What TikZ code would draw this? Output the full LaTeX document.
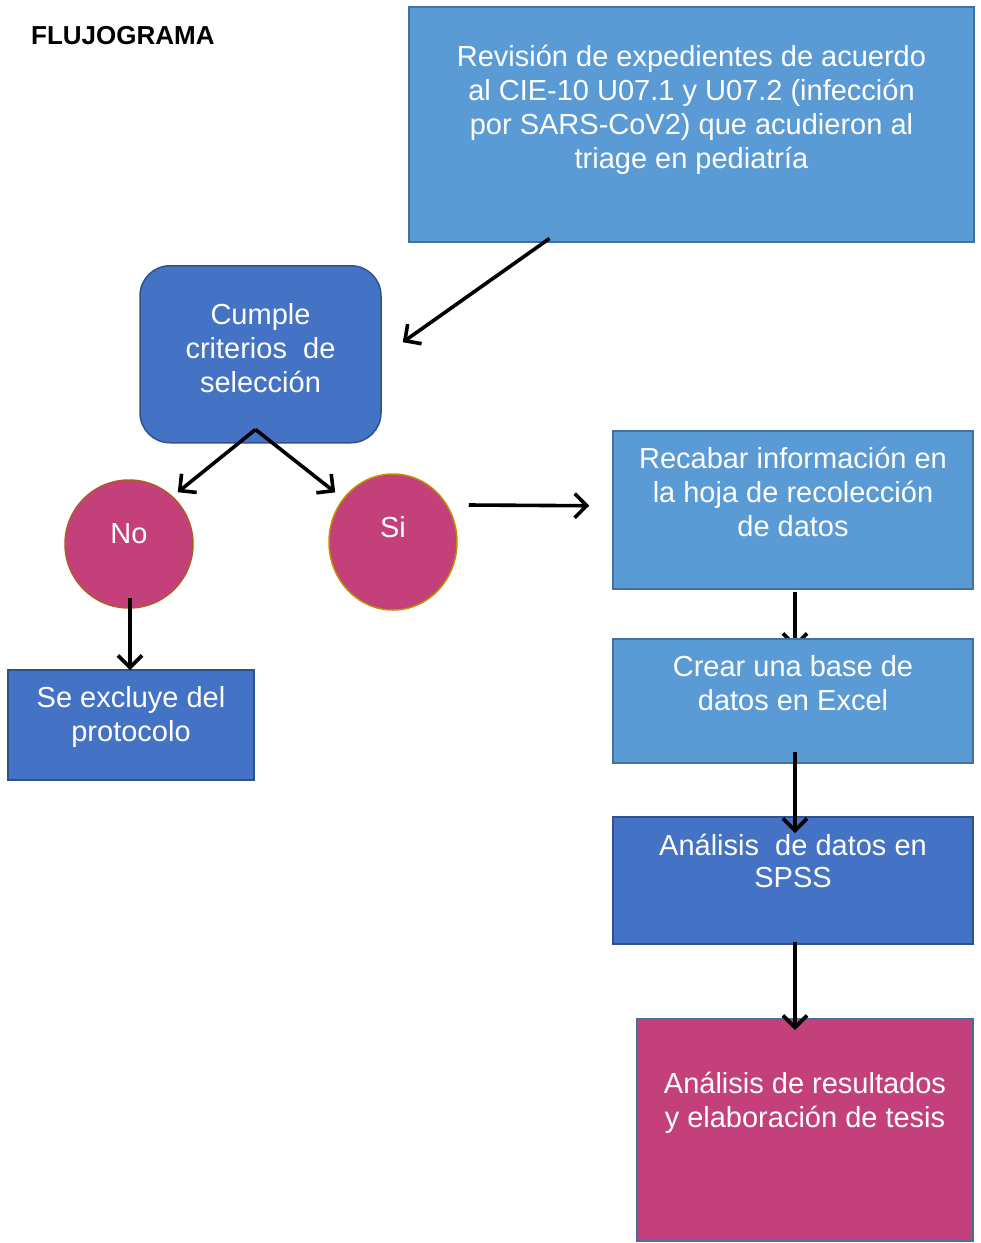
\documentclass[tikz,border=0pt]{standalone}
\usepackage{fontspec}
\setmainfont{Liberation Sans}
\usepackage{xcolor}
\usetikzlibrary{shapes,arrows.meta,positioning,calc}
\definecolor{lblue}{HTML}{5B9BD5}
\definecolor{dblue}{HTML}{4472C4}
\definecolor{pinkm}{HTML}{C4407B}
\definecolor{lbline}{HTML}{41719C}
\definecolor{dbline}{HTML}{2F528F}
\definecolor{brownline}{HTML}{AE5A21}
\definecolor{goldline}{HTML}{BF9000}
\pgfdeclarelayer{background}
\pgfsetlayers{background,main}

\begin{document}
\begin{tikzpicture}[x=1pt,y=-1pt,
    box/.style={rectangle,anchor=north,inner sep=0pt,align=center,text=white,
        line width=1.5pt,font=\fontsize{29}{34}\selectfont},
    circ/.style={ellipse,inner sep=0pt,text=white,fill=pinkm,line width=1.5pt,
        font=\fontsize{29}{34}\selectfont},
    arr/.style={line width=3.6pt,-{Straight Barb[length=12pt,width=24pt]}}]
\useasboundingbox (0,0) rectangle (981,1243);

% title
\node[anchor=west,inner sep=0pt,font=\fontsize{26}{30}\bfseries] (title) at (31,36) {FLUJOGRAMA};

% top box
\node[box,fill=lblue,draw=lbline,minimum width=565pt,text height=162pt,text depth=73pt]
    (rev) at (691.5,6) {Revisión de expedientes de acuerdo\\al CIE-10 U07.1 y U07.2 (infección\\por SARS-CoV2) que acudieron al\\triage en pediatría};

% decision
\node[box,fill=dblue,draw=dbline,rounded corners=30pt,minimum width=241pt,text height=127pt,text depth=50pt]
    (crit) at (260.5,265) {Cumple\\criterios\ \ de\\selección};

\node[circ,draw=brownline,minimum width=128pt,minimum height=128pt,text height=21pt,text depth=23pt]
    (no) at (129,544) {No};
\node[circ,draw=goldline,minimum width=128pt,minimum height=136pt,text height=20pt,text depth=30pt]
    (si) at (393,542) {Si};

\node[box,fill=dblue,draw=dbline,minimum width=246pt,text height=72pt,text depth=38pt]
    (excl) at (131,669) {Se excluye del\\protocolo};

% right column
\node[box,fill=lblue,draw=lbline,minimum width=360pt,text height=106pt,text depth=52pt]
    (recabar) at (793,430) {Recabar información en\\la hoja de recolección\\de datos};
\node[box,fill=lblue,draw=lbline,minimum width=360pt,text height=72pt,text depth=52pt]
    (crear) at (793,638) {Crear una base de\\datos en Excel};
\node[box,fill=dblue,draw=dbline,minimum width=360pt,text height=71pt,text depth=56pt,
    font=\fontsize{29}{32}\selectfont]
    (analisis) at (793,816) {Análisis\ \ de datos en\\SPSS};
\node[box,fill=pinkm,draw=lbline,minimum width=336pt,text height=109pt,text depth=113pt]
    (final) at (805,1018) {Análisis de resultados\\y elaboración de tesis};

% arrows
\draw[arr] ($(rev.south)+(-142,-4)$) -- ($(crit.east)+(21,-12)$);
\draw[arr] ($(crit.south)+(-5,-14)$) -- ($(no.north east)+(3,-6)$);
\draw[arr] ($(crit.south)+(-5,-14)$) -- ($(si.north west)+(-12,-1)$);
\draw[arr] ($(no.south)+(1,-11)$) -- ($(excl.north)+(-1,1)$);
\draw[arr] ($(si.east)+(11,-37)$) -- ($(recabar.west)+(-23,-4)$);
\begin{pgfonlayer}{background}
\draw[arr] ($(recabar.south)+(2,2)$) -- ($(crear.north)+(2,10)$);
\end{pgfonlayer}
\draw[arr] ($(crear.south)+(2,-12)$) -- ($(analisis.north)+(2,17)$);
\draw[arr] ($(analisis.south)+(2,-3)$) -- ($(final.north)+(-10,12)$);
\end{tikzpicture}
\end{document}
